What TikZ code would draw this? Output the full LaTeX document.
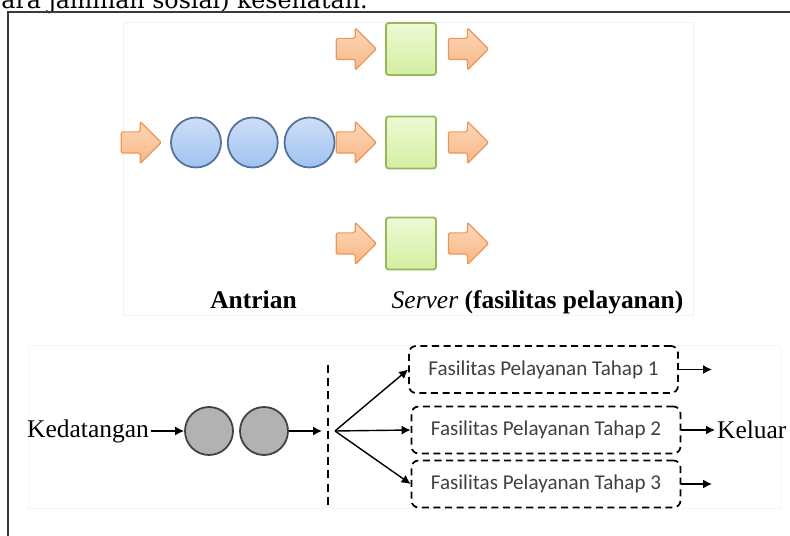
\documentclass[tikz,border=0pt]{standalone}
\usepackage{fontspec}
\setmainfont{Liberation Serif}
\newfontfamily\boxfont{Carlito}
\newfontfamily\pagefont{DejaVu Serif}
\usepackage{tikz}
\usetikzlibrary{arrows.meta,positioning,shapes.arrows}

\definecolor{flowline}{RGB}{238,150,88}
\definecolor{flowtop}{RGB}{252,216,186}
\definecolor{flowbot}{RGB}{247,182,132}
\definecolor{serverline}{RGB}{150,184,88}
\definecolor{servertop}{RGB}{238,250,212}
\definecolor{serverbot}{RGB}{212,238,162}
\definecolor{custline}{RGB}{84,112,156}
\definecolor{custtop}{RGB}{206,222,246}
\definecolor{custbot}{RGB}{160,195,240}

\tikzset{
  flow/.style={single arrow, draw=flowline, top color=flowtop, bottom color=flowbot,
    minimum height=0.8cm, single arrow head extend=0.21cm,
    inner xsep=0pt, inner ysep=0.2cm, line width=0.7pt, rounded corners=0.8pt},
  server/.style={rectangle, draw=serverline, top color=servertop, bottom color=serverbot,
    minimum width=1cm, minimum height=1.04cm, line width=1pt, rounded corners=1.5pt},
  cust/.style={circle, draw=custline, top color=custtop, bottom color=custbot,
    minimum size=1cm, inner sep=0pt, line width=1pt},
  caller/.style={circle, draw=black!75, fill=gray!60, minimum size=0.96cm,
    inner sep=0pt, line width=1pt},
  tahap/.style={draw, dash pattern=on 4pt off 2.6pt, rounded corners=4pt, line width=1pt,
    minimum width=5.38cm, minimum height=0.94cm, text=black!75,
    font=\boxfont\fontsize{12}{14}\selectfont},
  link/.style={-{Latex[length=1.8mm,width=1.8mm]}, line width=0.8pt},
  caption/.style={font=\bfseries\fontsize{14.5}{17}\selectfont, anchor=base},
  plain/.style={font=\fontsize{14.5}{17}\selectfont, inner sep=1pt}
}

\begin{document}
\begin{tikzpicture}
  \useasboundingbox (0,0) rectangle (15.8,10.72);
  \clip (0,0) rectangle (15.8,10.72);

  % running text of the page and the figure frame
  \node[anchor=base east, font=\pagefont\fontsize{13.5}{16}\selectfont, inner sep=0pt]
    (pagetext) at (7.36,10.54) {penyelenggara jaminan sosial) kesehatan.};
  \draw[line width=1.1pt, gray!45!black] (0.16,0) -- (0.16,10.48) -- (15.8,10.48);

  % faint borders of the two panels
  \draw[gray!10] (2.46,4.42) rectangle (13.86,10.28);
  \draw[gray!8] (0.56,0.56) rectangle (15.6,3.82);

  % servers
  \node[server] (s1) at (8.22,9.74) {};
  \node[server] (s2) at (8.22,7.87) {};
  \node[server] (s3) at (8.22,5.85) {};

  % queue
  \node[cust] (c1) at (3.92,7.87) {};
  \node[cust, right=0.1cm of c1] (c2) {};
  \node[cust, right=0.1cm of c2] (c3) {};
  \node[flow, left=0.16cm of c1] (in0) {};

  % arrows into and out of each server
  \node[flow, left=0.16cm of s1] (in1) {};
  \node[flow, left=0.16cm of s2] (in2) {};
  \node[flow, left=0.16cm of s3] (in3) {};
  \node[flow, right=0.22cm of s1] (out1) {};
  \node[flow, right=0.22cm of s2] (out2) {};
  \node[flow, right=0.22cm of s3] (out3) {};

  \node[caption] (antrian) at (5.07,4.54) {Antrian};
  \node[caption] (fasilitas) at (10.75,4.54) {{\mdseries\itshape Server} (fasilitas pelayanan)};

  % arrivals, queue and the three stages
  \node[caller] (g1) at (4.18,2.1) {};
  \node[caller] (g2) at (5.28,2.1) {};
  \node[plain, anchor=east] (datang) at (3.02,2.1) {Kedatangan};

  \coordinate (gate) at (6.44,2.1);
  \coordinate (split) at (6.7,2.1);
  \coordinate (cuttop) at (6.56,3.42);
  \coordinate (cutbot) at (6.56,0.62);
  \draw[line width=1pt, dash pattern=on 4.5pt off 3pt] (cuttop) -- (cutbot);

  \node[tahap] (t1) at (10.87,3.33) {Fasilitas Pelayanan Tahap 1};
  \node[tahap] (t2) at (10.92,2.12) {Fasilitas Pelayanan Tahap 2};
  \node[tahap] (t3) at (10.92,1.04) {Fasilitas Pelayanan Tahap 3};

  \node[plain, anchor=west] (keluar) at (14.3,2.12) {Keluar};
  \coordinate (end1) at (14.24,3.33);
  \coordinate (end3) at (14.24,1.04);

  \draw[link] (datang) -- (g1);
  \draw[link] (g2) -- (gate);
  \draw[link] (split) -- (t1.west);
  \draw[link] (split) -- (t2.west);
  \draw[link] (split) -- (t3.west);
  \draw[link] (t1.east) -- (end1);
  \draw[link] (t2.east) -- (keluar);
  \draw[link] (t3.east) -- (end3);
\end{tikzpicture}
\end{document}
